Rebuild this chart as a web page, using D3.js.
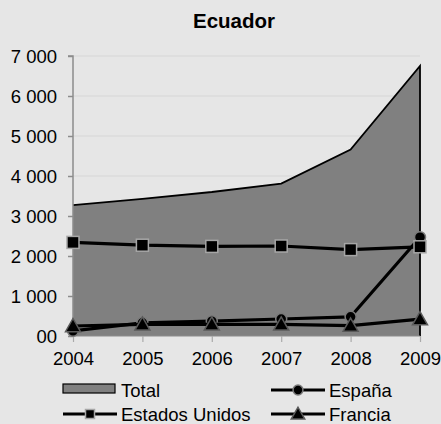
<!DOCTYPE html>
<html><head><meta charset="utf-8">
<script src="https://cdn.jsdelivr.net/npm/d3@7"></script>
<style>body{margin:0;background:#e6e6e6}svg{display:block;font-family:"Liberation Sans",Arial,sans-serif}</style>
</head><body>
<script>
const years = [2004, 2005, 2006, 2007, 2008, 2009];
const total = [3270, 3430, 3600, 3810, 4660, 6750];
const espana = [130, 330, 370, 425, 480, 2470];
const estadosUnidos = [2340, 2270, 2240, 2250, 2160, 2230];
const francia = [250, 290, 290, 290, 260, 420];
const yTicks = [0, 1000, 2000, 3000, 4000, 5000, 6000, 7000];
const yTickLabels = ["00", "1 000", "2 000", "3 000", "4 000", "5 000", "6 000", "7 000"];
const title = "Ecuador";

const W = 441, H = 424;
const svg = d3.select("body").append("svg").attr("width", W).attr("height", H);
svg.append("rect").attr("width", W).attr("height", H).attr("fill", "#e6e6e6");

const x = d3.scalePoint().domain(years).range([73, 420]);
const y = d3.scaleLinear().domain([0, 7000]).range([336, 56]);

// title
svg.append("text").attr("x", 234).attr("y", 28).attr("text-anchor", "middle")
  .attr("font-size", 20.5).attr("font-weight", "bold").text(title);

// grid
svg.append("g").selectAll("line").data(yTicks.slice(1)).join("line")
  .attr("x1", 73).attr("x2", 420).attr("y1", d => y(d)).attr("y2", d => y(d))
  .attr("stroke", "#d6d6d6").attr("stroke-width", 1);

// area
const area = d3.area().x((d, i) => x(years[i])).y0(y(0)).y1(d => y(d));
svg.append("path").datum(total).attr("d", area).attr("fill", "#808080");
svg.append("path").datum(total)
  .attr("d", d3.line().x((d, i) => x(years[i])).y(d => y(d))(total) + `L${x(2009)},${y(0)}`)
  .attr("fill", "none").attr("stroke", "#000").attr("stroke-width", 1.8);

// axes
const yAxis = d3.axisLeft(y).tickValues(yTicks).tickFormat((d, i) => yTickLabels[i]).tickSize(5).tickPadding(11);
const gy = svg.append("g").attr("transform", "translate(73,0)").call(yAxis);
gy.select(".domain").attr("stroke", "#8c8c8c").attr("stroke-width", 1.5).attr("d", `M-5,${y(7000)}H0V${y(0)}`);
gy.selectAll(".tick line").attr("stroke", "#8c8c8c").attr("stroke-width", 1.5);
gy.selectAll(".tick text").attr("font-size", 18.5).attr("fill", "#000").attr("font-family", "Liberation Sans, Arial, sans-serif").attr("dy", "0.35em");

const xAxis = d3.axisBottom(x).tickSize(6).tickPadding(10);
const gx = svg.append("g").attr("transform", `translate(0,${y(0)})`).call(xAxis);
gx.select(".domain").attr("stroke", "#8c8c8c").attr("stroke-width", 1.2).attr("d", `M73,0H420`);
gx.selectAll(".tick line").attr("stroke", "#aaaaaa").attr("stroke-width", 1.2);
gx.selectAll(".tick text").attr("font-size", 18.5).attr("fill", "#000").attr("font-family", "Liberation Sans, Arial, sans-serif");

// lines
const line = d3.line().x((d, i) => x(years[i])).y(d => y(d));
function drawSeries(vals, marker) {
  svg.append("path").datum(vals).attr("d", line).attr("fill", "none")
    .attr("stroke", "#000").attr("stroke-width", 3.2).attr("stroke-linejoin", "round");
  const g = svg.append("g");
  vals.forEach((v, i) => drawMarker(g, x(years[i]), y(v), marker, 1));
}
function drawMarker(g, cx, cy, type, s) {
  if (type === "square") {
    g.append("rect").attr("x", cx - 6 * s).attr("y", cy - 6 * s).attr("width", 12 * s).attr("height", 12 * s)
      .attr("fill", "#000").attr("stroke", "#a6a6a6").attr("stroke-width", 1.5);
  } else if (type === "circle") {
    g.append("circle").attr("cx", cx).attr("cy", cy).attr("r", 5.5 * s)
      .attr("fill", "#000").attr("stroke", "#7a7a7a").attr("stroke-width", 1.5);
  } else {
    const r = 7.5 * s;
    g.append("path").attr("d", `M${cx},${cy - r}L${cx + r},${cy + r * 0.75}L${cx - r},${cy + r * 0.75}Z`)
      .attr("fill", "#000").attr("stroke", "#5a5a5a").attr("stroke-width", 1.5);
  }
}
drawSeries(espana, "circle");
drawSeries(estadosUnidos, "square");
drawSeries(francia, "triangle");

// legend
const lg = svg.append("g");
lg.append("rect").attr("x", 63).attr("y", 384).attr("width", 52).attr("height", 9)
  .attr("fill", "#808080").attr("stroke", "#000").attr("stroke-width", 1.2);
lg.append("text").attr("x", 121).attr("y", 397).attr("font-size", 18.5).text("Total");

const legendItems = [
  { name: "España", x: 271, y: 390, m: "circle" },
  { name: "Estados Unidos", x: 63, y: 414, m: "square" },
  { name: "Francia", x: 271, y: 414, m: "triangle" }
];
legendItems.forEach(it => {
  lg.append("line").attr("x1", it.x).attr("x2", it.x + 54).attr("y1", it.y).attr("y2", it.y)
    .attr("stroke", "#000").attr("stroke-width", 3.2);
  drawMarker(lg, it.x + 27, it.y, it.m, it.m === "square" ? 0.75 : 0.9);
  lg.append("text").attr("x", it.x + 58).attr("y", it.y + 7).attr("font-size", 18.5).text(it.name);
});
</script>
</body></html>
